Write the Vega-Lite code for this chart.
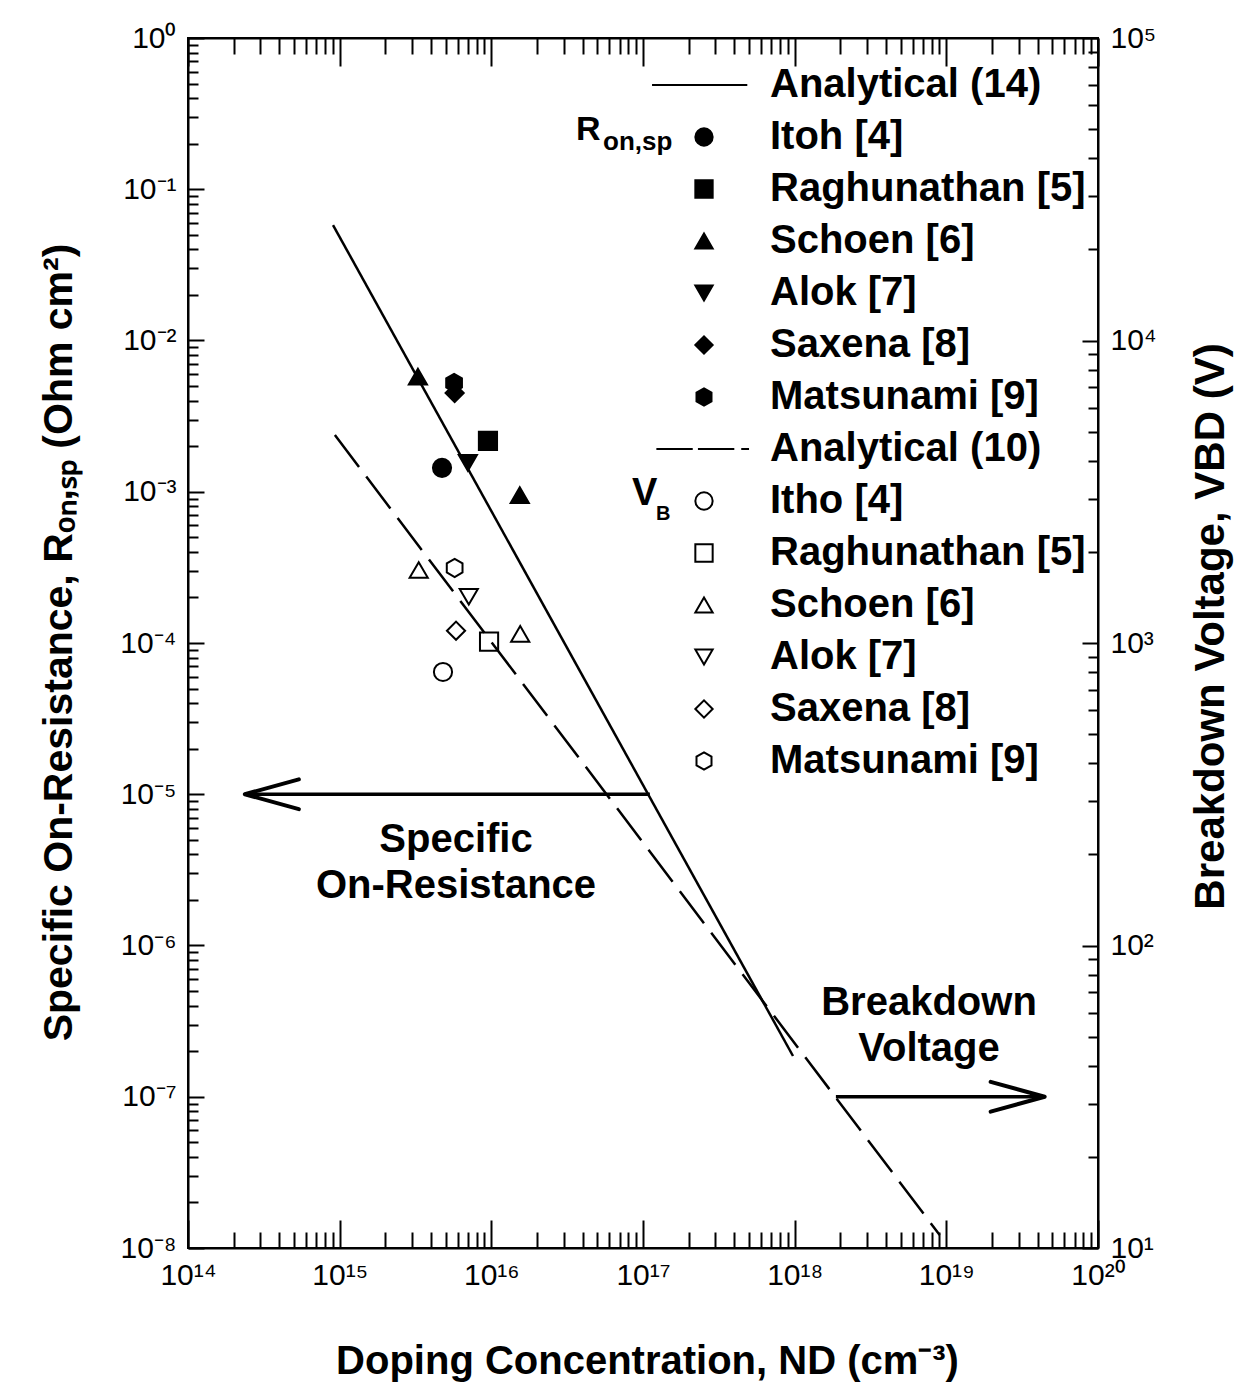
{
  "$schema": "https://vega.github.io/schema/vega-lite/v6.json",
  "width": 910,
  "height": 1210,
  "autosize": {"type": "none"},
  "padding": {"left": 188, "top": 38, "right": 152, "bottom": 139},
  "background": "white",
  "config": {
    "view": {"stroke": "black", "strokeWidth": 2},
    "font": "Liberation Sans",
    "axis": {
      "grid": false,
      "domainColor": "black",
      "domainWidth": 2,
      "tickColor": "black",
      "tickWidth": 2,
      "labelColor": "black",
      "labelFont": "Liberation Sans",
      "labelFontSize": 30,
      "titleColor": "black",
      "titleFont": "Liberation Sans",
      "titleFontSize": 41,
      "titleFontWeight": "bold",
      "labelOverlap": false,
      "labelFlush": false,
      "labelBound": false
    }
  },
  "datasets": {
    "rpts": [
      {"N": 4.73e15, "val": 1.44e-3, "series": "R|Itoh [4]"},
      {"N": 9.5e15, "val": 2.17e-3, "series": "R|Raghunathan [5]"},
      {"N": 3.28e15, "val": 5.76e-3, "series": "R|Schoen [6]"},
      {"N": 1.54e16, "val": 9.5e-4, "series": "R|Schoen [6]"},
      {"N": 7.0e15, "val": 1.55e-3, "series": "R|Alok [7]"},
      {"N": 5.68e15, "val": 5.24e-3, "series": "R|Matsunami [9]"},
      {"N": 5.73e15, "val": 4.5e-3, "series": "R|Saxena [8]"}
    ],
    "vpts": [
      {"N": 4.8e15, "val": 802, "series": "V|Itho [4]"},
      {"N": 9.66e15, "val": 1010, "series": "V|Raghunathan [5]"},
      {"N": 3.32e15, "val": 1743, "series": "V|Schoen [6]"},
      {"N": 1.55e16, "val": 1071, "series": "V|Schoen [6]"},
      {"N": 7.1e15, "val": 1422, "series": "V|Alok [7]"},
      {"N": 5.85e15, "val": 1098, "series": "V|Saxena [8]"},
      {"N": 5.73e15, "val": 1771, "series": "V|Matsunami [9]"}
    ],
    "rline": [
      {"N": 9.04e14, "val": 0.058},
      {"N": 9.75e17, "val": 1.86e-7}
    ],
    "vline": [
      {"N": 9.3e14, "val": 4870},
      {"N": 9.04e18, "val": 11.04}
    ],
    "shafts": [
      {"N": 2.37e14, "N2": 1.11e17, "val": 1e-5},
      {"N": 1.87e18, "N2": 4.45e19, "val": 1e-7}
    ],
    "tipLeft": [{"N": 2.37e14, "val": 1e-5}],
    "tipRight": [{"N": 4.45e19, "val": 1e-7}],
    "notes": [
      {"N": 5.85e15, "val": 4.98e-6, "text": "Specific\nOn-Resistance"},
      {"N": 7.69e18, "val": 4.17e-7, "text": "Breakdown\nVoltage"}
    ],
    "glabels": [
      {"N": 3.61e16, "val": 0.212, "text": "R"},
      {"N": 5.45e16, "val": 0.1817, "text": "on,sp"},
      {"N": 8.45e16, "val": 8.17e-4, "text": "V"},
      {"N": 1.22e17, "val": 6.5e-4, "text": "B"}
    ]
  },
  "layer": [
    {
      "encoding": {
        "x": {
          "field": "N",
          "type": "quantitative",
          "scale": {"type": "log", "domain": [1e14, 1e20], "nice": false},
          "axis": {
            "orient": "bottom",
            "values": [1e14,2e14,3e14,4e14,5e14,6e14,7e14,8e14,9e14,1e15,2e15,3e15,4e15,5e15,6e15,7e15,8e15,9e15,1e16,2e16,3e16,4e16,5e16,6e16,7e16,8e16,9e16,1e17,2e17,3e17,4e17,5e17,6e17,7e17,8e17,9e17,1e18,2e18,3e18,4e18,5e18,6e18,7e18,8e18,9e18,1e19,2e19,3e19,4e19,5e19,6e19,7e19,8e19,9e19,1e20],
            "tickSize": {"condition": {"test": "abs(log(datum.value)/LN10 - round(log(datum.value)/LN10)) < 0.001", "value": -28}, "value": -16},
            "labelExpr": "abs(log(datum.value)/LN10 - round(log(datum.value)/LN10)) < 0.001 ? '10' + (round(log(datum.value)/LN10) < 0 ? '⁻' : '') + (abs(round(log(datum.value)/LN10)) >= 10 ? ['⁰','¹','²','³','⁴','⁵','⁶','⁷','⁸','⁹'][floor(abs(round(log(datum.value)/LN10))/10)] : '') + ['⁰','¹','²','³','⁴','⁵','⁶','⁷','⁸','⁹'][abs(round(log(datum.value)/LN10)) % 10] : ''",
            "labelPadding": 40,
            "labelBaseline": "top",
            "title": "Doping Concentration, ND (cm⁻³)",
            "titleFontSize": 40,
            "titleX": 459,
            "titleY": 125,
            "titleAlign": "center",
            "titleBaseline": "alphabetic",
            "titleAngle": 0
          }
        },
        "y": {
          "field": "val",
          "type": "quantitative",
          "scale": {"type": "log", "domain": [1e-8, 1], "nice": false},
          "axis": {
            "orient": "left",
            "values": [1e-8,2e-8,3e-8,4e-8,5e-8,6e-8,7e-8,8e-8,9e-8,1e-7,2e-7,3e-7,4e-7,5e-7,6e-7,7e-7,8e-7,9e-7,1e-6,2e-6,3e-6,4e-6,5e-6,6e-6,7e-6,8e-6,9e-6,1e-5,2e-5,3e-5,4e-5,5e-5,6e-5,7e-5,8e-5,9e-5,1e-4,2e-4,3e-4,4e-4,5e-4,6e-4,7e-4,8e-4,9e-4,1e-3,2e-3,3e-3,4e-3,5e-3,6e-3,7e-3,8e-3,9e-3,1e-2,2e-2,3e-2,4e-2,5e-2,6e-2,7e-2,8e-2,9e-2,1e-1,2e-1,3e-1,4e-1,5e-1,6e-1,7e-1,8e-1,9e-1,1],
            "tickSize": {"condition": {"test": "abs(log(datum.value)/LN10 - round(log(datum.value)/LN10)) < 0.001", "value": -16}, "value": -10},
            "labelExpr": "abs(log(datum.value)/LN10 - round(log(datum.value)/LN10)) < 0.001 ? '10' + (round(log(datum.value)/LN10) < 0 ? '⁻' : '') + (abs(round(log(datum.value)/LN10)) >= 10 ? ['⁰','¹','²','³','⁴','⁵','⁶','⁷','⁸','⁹'][floor(abs(round(log(datum.value)/LN10))/10)] : '') + ['⁰','¹','²','³','⁴','⁵','⁶','⁷','⁸','⁹'][abs(round(log(datum.value)/LN10)) % 10] : ''",
            "labelPadding": 28,
            "labelBaseline": "middle",
            "labelAlign": "right",
            "title": "Specific On-Resistance, Rₒₙ,ₛₚ (Ohm cm²)",
            "titleX": -117,
            "titleY": 604,
            "titleAngle": -90,
            "titleAlign": "center",
            "titleBaseline": "alphabetic"
          }
        }
      },
      "layer": [
        {"data": {"name": "rline"}, "mark": {"type": "line", "color": "black", "strokeWidth": 2.5}},
        {"data": {"name": "shafts"}, "mark": {"type": "rule", "color": "black", "strokeWidth": 3.5}, "encoding": {"x2": {"field": "N2"}}},
        {"data": {"name": "tipLeft"}, "mark": {"type": "point", "shape": "M2,-0.55L0,0L2,0.55", "size": 2916, "filled": false, "stroke": "black", "strokeWidth": 4, "strokeJoin": "round", "strokeCap": "round", "opacity": 1}},
        {"data": {"name": "tipRight"}, "mark": {"type": "point", "shape": "M-2,-0.55L0,0L-2,0.55", "size": 2916, "filled": false, "stroke": "black", "strokeWidth": 4, "strokeJoin": "round", "strokeCap": "round", "opacity": 1}},
        {"data": {"name": "notes"}, "mark": {"type": "text", "font": "Liberation Sans", "fontSize": 40, "fontWeight": "bold", "lineBreak": "\n", "lineHeight": 46, "align": "center", "baseline": "middle", "color": "black"}, "encoding": {"text": {"field": "text"}}},
        {"data": {"name": "glabels"}, "transform": [{"filter": "datum.text === 'R'"}], "mark": {"type": "text", "font": "Liberation Sans", "fontSize": 34, "fontWeight": "bold", "align": "left", "baseline": "alphabetic", "color": "black"}, "encoding": {"text": {"field": "text"}}},
        {"data": {"name": "glabels"}, "transform": [{"filter": "datum.text === 'on,sp'"}], "mark": {"type": "text", "font": "Liberation Sans", "fontSize": 26, "fontWeight": "bold", "align": "left", "baseline": "alphabetic", "color": "black"}, "encoding": {"text": {"field": "text"}}},
        {"data": {"name": "glabels"}, "transform": [{"filter": "datum.text === 'V'"}], "mark": {"type": "text", "font": "Liberation Sans", "fontSize": 38, "fontWeight": "bold", "align": "left", "baseline": "alphabetic", "color": "black"}, "encoding": {"text": {"field": "text"}}},
        {"data": {"name": "glabels"}, "transform": [{"filter": "datum.text === 'B'"}], "mark": {"type": "text", "font": "Liberation Sans", "fontSize": 20, "fontWeight": "bold", "align": "left", "baseline": "alphabetic", "color": "black"}, "encoding": {"text": {"field": "text"}}},
        {
          "data": {"name": "rpts"},
          "mark": {"type": "point", "size": 330, "strokeWidth": 2, "opacity": 1},
          "encoding": {
            "shape": {
              "field": "series",
              "type": "nominal",
              "scale": {
                "domain": ["R|Analytical (14)", "R|Itoh [4]", "R|Raghunathan [5]", "R|Schoen [6]", "R|Alok [7]", "R|Saxena [8]", "R|Matsunami [9]", "V|Analytical (10)", "V|Itho [4]", "V|Raghunathan [5]", "V|Schoen [6]", "V|Alok [7]", "V|Saxena [8]", "V|Matsunami [9]"],
                "range": ["M-6,0H5", "circle", "square", "triangle-up", "triangle-down", "diamond", "M0,-1L0.866,-0.5L0.866,0.5L0,1L-0.866,0.5L-0.866,-0.5Z", "M-5.5,0H-1.3M-0.7,0H3.5M4.3,0H5.2", "circle", "square", "triangle-up", "triangle-down", "diamond", "M0,-1L0.866,-0.5L0.866,0.5L0,1L-0.866,0.5L-0.866,-0.5Z"]
              },
              "legend": {"orient": "none", "legendX": 496, "legendY": 27, "title": null, "labelExpr": "substring(datum.label, 2)", "labelFont": "Liberation Sans", "labelFontSize": 40, "labelFontWeight": "bold", "labelColor": "black", "labelLimit": 1000, "labelOffset": 46, "symbolSize": 300, "symbolStrokeWidth": 2, "symbolStrokeColor": "black", "symbolOpacity": 1, "rowPadding": 12, "padding": 0}
            },
            "fill": {
              "field": "series",
              "type": "nominal",
              "scale": {
                "domain": ["R|Analytical (14)", "R|Itoh [4]", "R|Raghunathan [5]", "R|Schoen [6]", "R|Alok [7]", "R|Saxena [8]", "R|Matsunami [9]", "V|Analytical (10)", "V|Itho [4]", "V|Raghunathan [5]", "V|Schoen [6]", "V|Alok [7]", "V|Saxena [8]", "V|Matsunami [9]"],
                "range": ["transparent", "black", "black", "black", "black", "black", "black", "transparent", "transparent", "transparent", "transparent", "transparent", "transparent", "transparent"]
              },
              "legend": {"orient": "none", "legendX": 496, "legendY": 27, "title": null, "labelExpr": "substring(datum.label, 2)", "labelFont": "Liberation Sans", "labelFontSize": 40, "labelFontWeight": "bold", "labelColor": "black", "labelLimit": 1000, "labelOffset": 46, "symbolSize": 300, "symbolStrokeWidth": 2, "symbolStrokeColor": "black", "symbolOpacity": 1, "rowPadding": 12, "padding": 0}
            },
            "stroke": {
              "field": "series",
              "type": "nominal",
              "scale": {
                "domain": ["R|Analytical (14)", "R|Itoh [4]", "R|Raghunathan [5]", "R|Schoen [6]", "R|Alok [7]", "R|Saxena [8]", "R|Matsunami [9]", "V|Analytical (10)", "V|Itho [4]", "V|Raghunathan [5]", "V|Schoen [6]", "V|Alok [7]", "V|Saxena [8]", "V|Matsunami [9]"],
                "range": ["black", "black", "black", "black", "black", "black", "black", "black", "black", "black", "black", "black", "black", "black"]
              },
              "legend": {"orient": "none", "legendX": 496, "legendY": 27, "title": null, "labelExpr": "substring(datum.label, 2)", "labelFont": "Liberation Sans", "labelFontSize": 40, "labelFontWeight": "bold", "labelColor": "black", "labelLimit": 1000, "labelOffset": 46, "symbolSize": 300, "symbolStrokeWidth": 2, "symbolStrokeColor": "black", "symbolOpacity": 1, "rowPadding": 12, "padding": 0}
            }
          }
        }
      ]
    },
    {
      "encoding": {
        "x": {
          "field": "N",
          "type": "quantitative",
          "scale": {"type": "log", "domain": [1e14, 1e20], "nice": false},
          "axis": {
            "orient": "top",
            "values": [1e14,2e14,3e14,4e14,5e14,6e14,7e14,8e14,9e14,1e15,2e15,3e15,4e15,5e15,6e15,7e15,8e15,9e15,1e16,2e16,3e16,4e16,5e16,6e16,7e16,8e16,9e16,1e17,2e17,3e17,4e17,5e17,6e17,7e17,8e17,9e17,1e18,2e18,3e18,4e18,5e18,6e18,7e18,8e18,9e18,1e19,2e19,3e19,4e19,5e19,6e19,7e19,8e19,9e19,1e20],
            "tickSize": {"condition": {"test": "abs(log(datum.value)/LN10 - round(log(datum.value)/LN10)) < 0.001", "value": -28}, "value": -16},
            "labels": false,
            "title": null
          }
        },
        "y": {
          "field": "val",
          "type": "quantitative",
          "scale": {"type": "log", "domain": [10, 100000], "nice": false},
          "axis": {
            "orient": "right",
            "values": [10,20,30,40,50,60,70,80,90,100,200,300,400,500,600,700,800,900,1000,2000,3000,4000,5000,6000,7000,8000,9000,10000,20000,30000,40000,50000,60000,70000,80000,90000,100000],
            "tickSize": {"condition": {"test": "abs(log(datum.value)/LN10 - round(log(datum.value)/LN10)) < 0.001", "value": -16}, "value": -10},
            "labelExpr": "abs(log(datum.value)/LN10 - round(log(datum.value)/LN10)) < 0.001 ? '10' + (round(log(datum.value)/LN10) < 0 ? '⁻' : '') + (abs(round(log(datum.value)/LN10)) >= 10 ? ['⁰','¹','²','³','⁴','⁵','⁶','⁷','⁸','⁹'][floor(abs(round(log(datum.value)/LN10))/10)] : '') + ['⁰','¹','²','³','⁴','⁵','⁶','⁷','⁸','⁹'][abs(round(log(datum.value)/LN10)) % 10] : ''",
            "labelPadding": 28,
            "labelBaseline": "middle",
            "labelAlign": "left",
            "title": "Breakdown Voltage, VBD (V)",
            "titleFontSize": 42,
            "titleX": 125,
            "titleY": 588,
            "titleAngle": -90,
            "titleAlign": "center",
            "titleBaseline": "alphabetic"
          }
        }
      },
      "layer": [
        {"data": {"name": "vline"}, "mark": {"type": "line", "color": "black", "strokeWidth": 2.5, "strokeDash": [40, 12]}},
        {
          "data": {"name": "vpts"},
          "mark": {"type": "point", "size": 330, "strokeWidth": 2, "opacity": 1},
          "encoding": {
            "shape": {
              "field": "series",
              "type": "nominal",
              "scale": {
                "domain": ["R|Analytical (14)", "R|Itoh [4]", "R|Raghunathan [5]", "R|Schoen [6]", "R|Alok [7]", "R|Saxena [8]", "R|Matsunami [9]", "V|Analytical (10)", "V|Itho [4]", "V|Raghunathan [5]", "V|Schoen [6]", "V|Alok [7]", "V|Saxena [8]", "V|Matsunami [9]"],
                "range": ["M-6,0H5", "circle", "square", "triangle-up", "triangle-down", "diamond", "M0,-1L0.866,-0.5L0.866,0.5L0,1L-0.866,0.5L-0.866,-0.5Z", "M-5.5,0H-1.3M-0.7,0H3.5M4.3,0H5.2", "circle", "square", "triangle-up", "triangle-down", "diamond", "M0,-1L0.866,-0.5L0.866,0.5L0,1L-0.866,0.5L-0.866,-0.5Z"]
              },
              "legend": {"orient": "none", "legendX": 496, "legendY": 27, "title": null, "labelExpr": "substring(datum.label, 2)", "labelFont": "Liberation Sans", "labelFontSize": 40, "labelFontWeight": "bold", "labelColor": "black", "labelLimit": 1000, "labelOffset": 46, "symbolSize": 300, "symbolStrokeWidth": 2, "symbolStrokeColor": "black", "symbolOpacity": 1, "rowPadding": 12, "padding": 0}
            },
            "fill": {
              "field": "series",
              "type": "nominal",
              "scale": {
                "domain": ["R|Analytical (14)", "R|Itoh [4]", "R|Raghunathan [5]", "R|Schoen [6]", "R|Alok [7]", "R|Saxena [8]", "R|Matsunami [9]", "V|Analytical (10)", "V|Itho [4]", "V|Raghunathan [5]", "V|Schoen [6]", "V|Alok [7]", "V|Saxena [8]", "V|Matsunami [9]"],
                "range": ["transparent", "black", "black", "black", "black", "black", "black", "transparent", "transparent", "transparent", "transparent", "transparent", "transparent", "transparent"]
              },
              "legend": {"orient": "none", "legendX": 496, "legendY": 27, "title": null, "labelExpr": "substring(datum.label, 2)", "labelFont": "Liberation Sans", "labelFontSize": 40, "labelFontWeight": "bold", "labelColor": "black", "labelLimit": 1000, "labelOffset": 46, "symbolSize": 300, "symbolStrokeWidth": 2, "symbolStrokeColor": "black", "symbolOpacity": 1, "rowPadding": 12, "padding": 0}
            },
            "stroke": {
              "field": "series",
              "type": "nominal",
              "scale": {
                "domain": ["R|Analytical (14)", "R|Itoh [4]", "R|Raghunathan [5]", "R|Schoen [6]", "R|Alok [7]", "R|Saxena [8]", "R|Matsunami [9]", "V|Analytical (10)", "V|Itho [4]", "V|Raghunathan [5]", "V|Schoen [6]", "V|Alok [7]", "V|Saxena [8]", "V|Matsunami [9]"],
                "range": ["black", "black", "black", "black", "black", "black", "black", "black", "black", "black", "black", "black", "black", "black"]
              },
              "legend": {"orient": "none", "legendX": 496, "legendY": 27, "title": null, "labelExpr": "substring(datum.label, 2)", "labelFont": "Liberation Sans", "labelFontSize": 40, "labelFontWeight": "bold", "labelColor": "black", "labelLimit": 1000, "labelOffset": 46, "symbolSize": 300, "symbolStrokeWidth": 2, "symbolStrokeColor": "black", "symbolOpacity": 1, "rowPadding": 12, "padding": 0}
            }
          }
        }
      ]
    }
  ],
  "resolve": {"scale": {"y": "independent"}, "axis": {"x": "independent", "y": "independent"}}
}
